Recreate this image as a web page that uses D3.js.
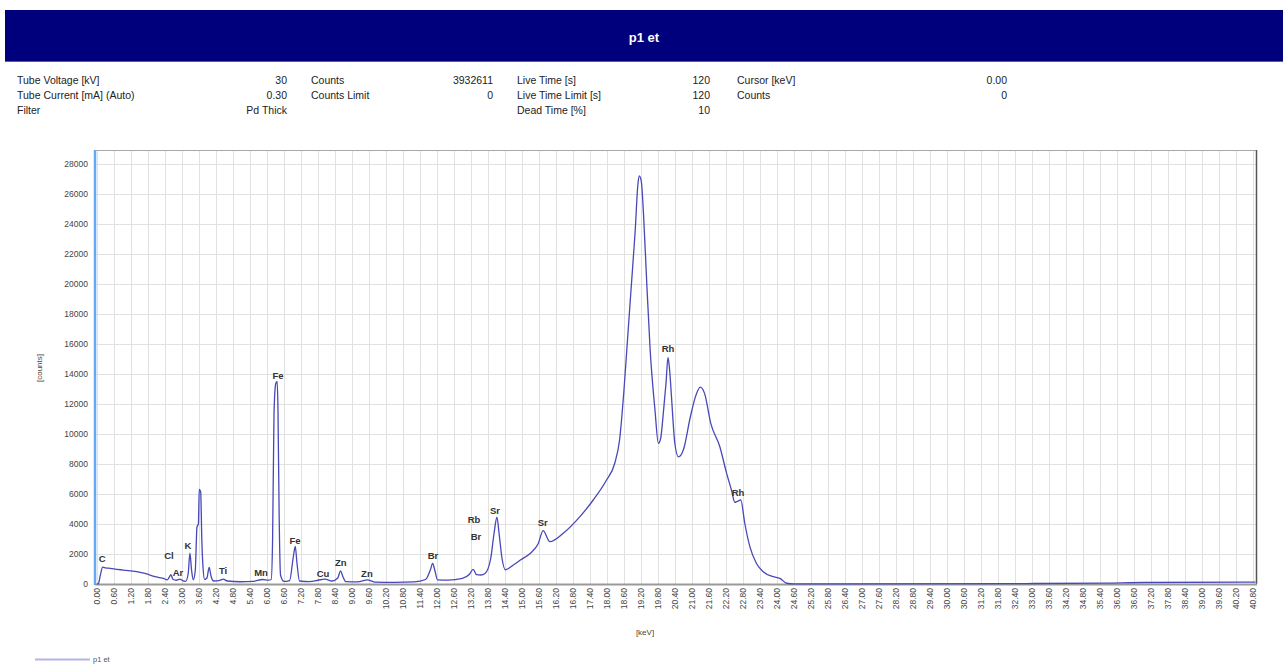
<!DOCTYPE html>
<html>
<head>
<meta charset="utf-8">
<script src="https://cdn.jsdelivr.net/npm/d3@7/dist/d3.min.js"></script>
<style>
  body { margin: 0; background: #fff; }
  svg { display: block; font-family: "Liberation Sans", Arial, sans-serif; }
</style>
</head>
<body>
<svg id="chart" width="1288" height="668"></svg>
<script>
// ---- Spectrum data: energy [keV] and counts ----
const energies = [
  0.00, 0.05, 0.12, 0.20, 0.30, 0.46, 0.70, 0.93, 1.20, 1.40, 1.60, 1.75, 1.90, 2.05, 2.20, 2.34,
  2.48, 2.55, 2.61, 2.68, 2.80, 2.93, 3.02, 3.13, 3.22, 3.28, 3.34, 3.40, 3.47, 3.53, 3.58, 3.61,
  3.66, 3.70, 3.74, 3.80, 3.88, 3.96, 4.03, 4.12, 4.30, 4.46, 4.60, 5.05, 5.50, 5.85, 6.05, 6.15,
  6.20, 6.25, 6.31, 6.36, 6.39, 6.43, 6.48, 6.60, 6.80, 6.93, 7.00, 7.06, 7.15, 7.50, 7.80, 8.05,
  8.30, 8.50, 8.60, 8.68, 8.78, 9.20, 9.55, 9.80, 10.50, 11.20, 11.60, 11.78, 11.85, 11.93, 12.02, 12.40,
  12.90, 13.15, 13.28, 13.40, 13.55, 13.70, 13.90, 14.02, 14.12, 14.20, 14.30, 14.42, 14.70, 14.95, 15.30, 15.58,
  15.75, 15.99, 16.46, 17.05, 17.52, 17.99, 18.28, 18.45, 18.60, 18.72, 18.85, 19.00, 19.10, 19.15, 19.22, 19.30,
  19.41, 19.53, 19.70, 19.82, 19.90, 20.00, 20.09, 20.16, 20.22, 20.29, 20.40, 20.53, 20.70, 20.95, 21.13, 21.30,
  21.45, 21.67, 21.99, 22.23, 22.40, 22.52, 22.60, 22.73, 22.87, 23.05, 23.28, 23.52, 23.87, 24.11, 24.35, 24.60,
  26.00, 32.80, 35.60, 37.00, 40.90
];
const counts = [
  0, 40, 600, 1120, 1080, 1040, 980, 930, 870, 820, 740, 670, 580, 490, 420, 380,
  280, 450, 620, 320, 250, 330, 230, 180, 700, 2050, 900, 280, 900, 3800, 4000, 6300,
  6150, 3000, 1200, 300, 400, 1100, 500, 200, 220, 320, 200, 150, 170, 300, 260, 300,
  3000, 11400, 13350, 13500, 11600, 4700, 600, 170, 230, 1800, 2500, 1400, 200, 160, 250, 330,
  200, 400, 880, 500, 160, 140, 280, 130, 110, 140, 300, 1000, 1380, 900, 280, 260,
  380, 650, 980, 620, 600, 700, 1700, 3400, 4450, 3300, 1700, 950, 1270, 1600, 2050, 2700,
  3560, 2820, 3380, 4490, 5600, 6930, 8050, 9600, 12800, 16000, 19500, 23500, 26700, 27200, 26800, 24490,
  20050, 15600, 11600, 9380, 9700, 11500, 13400, 15100, 14200, 12270, 9400, 8470, 8930, 11150, 12490, 13120,
  12710, 10710, 9150, 7380, 6270, 5450, 5500, 5600, 4050, 2490, 1380, 820, 490, 380, 50, 10,
  5, 30, 60, 100, 120
];

// ---- Element labels: name, energy [keV], count level of the label baseline ----
const peakNames    = ["C", "Cl", "Ar", "K", "Ti", "Mn", "Fe", "Fe", "Cu", "Zn", "Zn", "Br", "Rb", "Br", "Sr", "Sr", "Rh", "Rh"];
const peakEnergies = [0.18, 2.54, 2.86, 3.21, 4.45, 5.79, 6.39, 6.99, 7.98, 8.61, 9.53, 11.86, 13.31, 13.38, 14.05, 15.74, 20.16, 22.63];
const peakLevels   = [1470, 1670, 530, 2330, 670, 530, 13670, 2670, 470, 1200, 470, 1670, 4070, 2930, 4670, 3870, 15470, 5870];

// ---- Axis ticks ----
const yTicks = d3.range(0, 28001, 2000);
const xTicks = d3.range(0, 69).map(i => +(i * 0.6).toFixed(2));

// ---- Acquisition parameters (four label/value columns) ----
const infoCol1 = [["Tube Voltage [kV]", "30"], ["Tube Current [mA] (Auto)", "0.30"], ["Filter", "Pd Thick"]];
const infoCol2 = [["Counts", "3932611"], ["Counts Limit", "0"]];
const infoCol3 = [["Live Time [s]", "120"], ["Live Time Limit [s]", "120"], ["Dead Time [%]", "10"]];
const infoCol4 = [["Cursor [keV]", "0.00"], ["Counts", "0"]];

const title = "p1 et";
const seriesName = "p1 et";

const svg = d3.select("#chart");

// ---- Title bar ----
svg.append("rect").attr("x", 5).attr("y", 10).attr("width", 1278).attr("height", 52).attr("fill", "#00007d");
svg.append("line").attr("x1", 5).attr("x2", 1283).attr("y1", 61.5).attr("y2", 61.5).attr("stroke", "#3d5fd0").attr("stroke-width", 1);
svg.append("text").attr("x", 644).attr("y", 42).attr("text-anchor", "middle")
  .attr("fill", "#fff").attr("font-weight", "bold").attr("font-size", 13).text(title);

// ---- Parameter block ----
const infoCols = [
  { rows: infoCol1, lx: 17, vx: 287 },
  { rows: infoCol2, lx: 311, vx: 493 },
  { rows: infoCol3, lx: 517, vx: 710 },
  { rows: infoCol4, lx: 737, vx: 1007 }
];
const rowY = [84, 99, 114];
infoCols.forEach(col => {
  col.rows.forEach((r, i) => {
    svg.append("text").attr("x", col.lx).attr("y", rowY[i]).attr("font-size", 10.5).attr("fill", "#222").text(r[0]);
    svg.append("text").attr("x", col.vx).attr("y", rowY[i]).attr("font-size", 10.5).attr("fill", "#222")
      .attr("text-anchor", "end").text(r[1]);
  });
});

// ---- Plot geometry and scales ----
const plotL = 95, plotR = 1256, plotT = 150, plotB = 584;
const x = d3.scaleLinear().domain([0, 40.92]).range([97, 1256]);
const y = d3.scaleLinear().domain([0, 29000]).range([plotB, 149]);

const plot = svg.append("g");

// grid
plot.append("g").selectAll("line").data(xTicks).join("line")
  .attr("x1", d => Math.round(x(d)) + 0.5).attr("x2", d => Math.round(x(d)) + 0.5)
  .attr("y1", plotT).attr("y2", plotB).attr("stroke", "#e1e1e1").attr("stroke-width", 1);
plot.append("g").selectAll("line").data(yTicks.slice(1)).join("line")
  .attr("x1", plotL).attr("x2", plotR)
  .attr("y1", d => Math.round(y(d)) + 0.5).attr("y2", d => Math.round(y(d)) + 0.5)
  .attr("stroke", "#e1e1e1").attr("stroke-width", 1);

// frame
plot.append("line").attr("x1", plotL).attr("x2", plotR).attr("y1", plotT + 0.5).attr("y2", plotT + 0.5).attr("stroke", "#a8a8a8");
plot.append("line").attr("x1", plotR + 0.5).attr("x2", plotR + 0.5).attr("y1", plotT).attr("y2", plotB).attr("stroke", "#555").attr("stroke-width", 1.5);

// y axis
const yAxis = d3.axisLeft(y).tickValues(yTicks).tickSize(0).tickPadding(6).tickFormat(d3.format("d"));
const gy = svg.append("g").attr("transform", `translate(${plotL - 1},0)`).call(yAxis);
gy.select(".domain").remove();
gy.selectAll("text").attr("font-size", 8.5).attr("fill", "#444").attr("font-family", "Liberation Sans, Arial, sans-serif");
svg.append("line").attr("x1", plotL).attr("x2", plotL).attr("y1", plotT).attr("y2", plotB + 1)
  .attr("stroke", "#63aaf2").attr("stroke-width", 2.5);

// x axis
const xAxis = d3.axisBottom(x).tickValues(xTicks).tickSize(0).tickPadding(4).tickFormat(d3.format(".2f"));
const gx = svg.append("g").attr("transform", `translate(0,${plotB})`).call(xAxis);
gx.select(".domain").remove();
gx.selectAll("text")
  .attr("font-size", 8.5).attr("fill", "#444").attr("font-family", "Liberation Sans, Arial, sans-serif")
  .attr("transform", "rotate(-90)").attr("text-anchor", "end")
  .attr("x", -4).attr("y", 0).attr("dy", "0.33em");
svg.append("line").attr("x1", plotL).attr("x2", plotR + 1).attr("y1", plotB + 0.5).attr("y2", plotB + 0.5)
  .attr("stroke", "#999").attr("stroke-width", 2);

// axis titles
svg.append("text").attr("transform", `translate(42,368) rotate(-90)`).attr("text-anchor", "middle")
  .attr("font-size", 8).attr("fill", "#444").text("[counts]");
svg.append("text").attr("x", 645).attr("y", 635).attr("text-anchor", "middle")
  .attr("font-size", 8).attr("fill", "#444").text("[keV]");

// ---- Spectrum ----
const spectrum = energies.map((e, i) => ({ e, c: counts[i] }));
const line = d3.line().x(d => x(d.e)).y(d => y(d.c)).curve(d3.curveMonotoneX);
svg.append("path").datum(spectrum).attr("d", line)
  .attr("fill", "none").attr("stroke", "#4848b8").attr("stroke-width", 1.3).attr("stroke-linejoin", "round");

// ---- Element labels ----
svg.append("g").selectAll("text").data(peakNames).join("text")
  .attr("x", (d, i) => x(peakEnergies[i]))
  .attr("y", (d, i) => y(peakLevels[i]))
  .attr("text-anchor", "middle").attr("font-size", 9.5).attr("font-weight", "bold").attr("fill", "#333")
  .text(d => d);

// ---- Legend ----
svg.append("line").attr("x1", 35).attr("x2", 90).attr("y1", 659.5).attr("y2", 659.5)
  .attr("stroke", "#b4b4e6").attr("stroke-width", 2);
svg.append("text").attr("x", 93).attr("y", 662).attr("font-size", 7.5).attr("fill", "#555").text(seriesName);
</script>
</body>
</html>
